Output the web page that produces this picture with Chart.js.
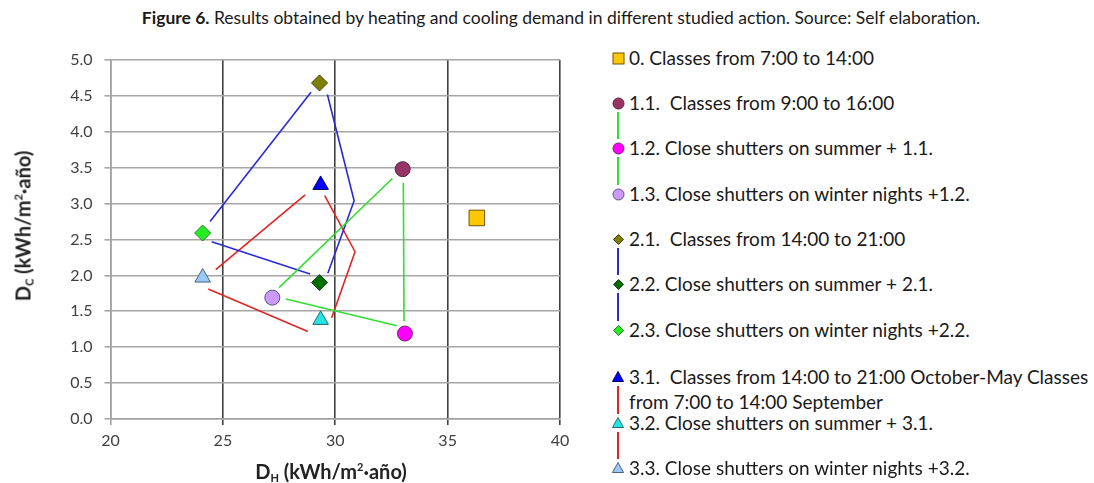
<!DOCTYPE html>
<html>
<head>
<meta charset="utf-8">
<script src="https://cdn.jsdelivr.net/npm/chart.js@4.4.0/dist/chart.umd.min.js"></script>
<style>
body { margin: 0; background: #fff; }
#wrap { position: relative; width: 1094px; height: 483px; overflow: hidden; font-family: Lato, "Open Sans", sans-serif; color: #1a1a1a; }
#title { position: absolute; top: 7px; left: 0; width: 1122px; text-align: center; font-size: 17.5px; white-space: nowrap; }
#chartBox { position: absolute; left: 0; top: 0; width: 600px; height: 483px; }
.axisTitle { position: absolute; font-weight: bold; font-size: 20px; white-space: nowrap; color: #222; }
.axisTitle sub { font-size: 11px; vertical-align: -3px; }
.axisTitle sup { font-size: 11px; vertical-align: 8px; line-height: 0; }
#xTitle { left: 331px; top: 471px; transform: translate(-50%, -50%); }
#yTitle { left: 23px; top: 226px; transform: translate(-50%, -50%) rotate(-90deg); }
.legRow { position: absolute; left: 629px; white-space: pre; font-size: 19px; line-height: 24px; height: 24px; }
.legMark { position: absolute; }
.legMark svg { display: block; }
.legLink { position: absolute; width: 1.5px; }
</style>
</head>
<body>
<div id="wrap">
  <div id="title"><b>Figure 6.</b> Results obtained by heating and cooling demand in different studied action. Source: Self elaboration.</div>
  <div id="chartBox"><canvas id="demandChart" width="600" height="483"></canvas></div>
  <div class="axisTitle" id="xTitle">D<sub>H</sub> (kWh/m<sup>2</sup>·año)</div>
  <div class="axisTitle" id="yTitle">D<sub>C</sub> (kWh/m<sup>2</sup>·año)</div>
  <div id="legend"></div>
</div>
<script>
// studied actions
const actionNames = [
    '0. Classes from 7:00 to 14:00',
    '1.1.  Classes from 9:00 to 16:00',
    '1.2. Close shutters on summer + 1.1.',
    '1.3. Close shutters on winter nights +1.2.',
    '2.1.  Classes from 14:00 to 21:00',
    '2.2. Close shutters on summer + 2.1.',
    '2.3. Close shutters on winter nights +2.2.',
    '3.1.  Classes from 14:00 to 21:00 October-May Classes',
    '3.2. Close shutters on summer + 3.1.',
    '3.3. Close shutters on winter nights +3.2.'
];
const actionNameExtra = 'from 7:00 to 14:00 September';

// heating demand D_H and cooling demand D_C (kWh/m2·año)
const heatingDemand = [36.3, 33.0, 33.1, 27.2, 29.3, 29.3, 24.1, 29.35, 29.35, 24.1];
const coolingDemand = [2.80, 3.48, 1.19, 1.69, 4.68, 1.90, 2.59, 3.26, 1.38, 1.97];

// x axis / y axis ticks
const dhTicks = [20, 25, 30, 35, 40];
const dcTicks = [0.0, 0.5, 1.0, 1.5, 2.0, 2.5, 3.0, 3.5, 4.0, 4.5, 5.0];

// hand drawn connectors between actions of one group (vertices in D_H, D_C)
const linkGroup = [1, 1, 1, 2, 2, 2, 3, 3, 3];
const linkDH = [
    [27.50, 32.54], [33.03, 33.06], [27.81, 32.74],
    [24.43, 28.92], [29.65, 30.84, 29.67], [24.50, 28.88],
    [24.68, 28.66], [29.53, 30.88, 29.84], [24.35, 28.78]
];
const linkDC = [
    [1.83, 3.35], [3.29, 1.36], [1.67, 1.30],
    [2.75, 4.55], [4.52, 3.04, 2.03], [2.47, 2.02],
    [2.08, 3.12], [3.11, 2.33, 1.41], [1.81, 1.22]
];

// styles
const markerShape = ['rect', 'circle', 'circle', 'circle', 'rectRot', 'rectRot', 'rectRot', 'triangle', 'triangle', 'triangle'];
const markerFill = ['#ffc800', '#993366', '#ff00ff', '#cc99ff', '#808000', '#006e00', '#22ee22', '#0000ff', '#22e6e6', '#99c8f5'];
const markerLine = ['#6b5500', '#4a2a3a', '#6a2a6a', '#5e5470', '#3d3d10', '#1e3a1e', '#2a7a2a', '#00006a', '#2a6a6a', '#4a6480'];
const markerRadius = [11, 7.5, 7.5, 7.5, 8, 8, 8, 9, 9, 9];
const groupColor = { 1: '#33dd33', 2: '#2a2ad8', 3: '#e42424' };

const pointSets = actionNames.map((name, i) => ({
    type: 'scatter',
    label: name,
    data: [{ x: heatingDemand[i], y: coolingDemand[i] }],
    pointStyle: markerShape[i],
    pointRadius: markerRadius[i],
    pointBackgroundColor: markerFill[i],
    pointBorderColor: markerLine[i],
    pointBorderWidth: 1
}));

const linkSets = linkDH.map((xs, i) => ({
    type: 'line',
    label: 'link ' + i,
    data: xs.map((x, k) => ({ x: x, y: linkDC[i][k] })),
    borderColor: groupColor[linkGroup[i]],
    borderWidth: 1.6,
    pointRadius: 0,
    fill: false,
    tension: 0
}));

const tickFont = { family: 'Lato', size: 16 };

new Chart(document.getElementById('demandChart').getContext('2d'), {
    type: 'scatter',
    data: { datasets: pointSets.concat(linkSets) },
    options: {
        responsive: false,
        animation: false,
        layout: { padding: { top: 60, right: 40, left: 0, bottom: 0 } },
        plugins: { legend: { display: false }, tooltip: { enabled: false } },
        scales: {
            x: {
                type: 'linear',
                min: dhTicks[0],
                max: dhTicks[dhTicks.length - 1],
                afterBuildTicks: (scale) => { scale.ticks = dhTicks.map(v => ({ value: v })); },
                afterFit: (scale) => { scale.height = 64; },
                ticks: { font: tickFont, color: '#404040', padding: 6 },
                grid: {
                    color: (c) => c.tick && c.tick.value === 20 ? '#a0a0a0' : '#404040',
                    lineWidth: 1.6,
                    tickLength: 6
                },
                border: { color: '#a0a0a0', width: 1.6 }
            },
            y: {
                type: 'linear',
                min: dcTicks[0],
                max: dcTicks[dcTicks.length - 1],
                afterBuildTicks: (scale) => { scale.ticks = dcTicks.map(v => ({ value: v })); },
                afterFit: (scale) => { scale.width = 110.5; },
                ticks: { font: tickFont, color: '#404040', padding: 12, callback: (v) => Number(v).toFixed(1) },
                grid: { color: '#a6a6a6', lineWidth: 1.6, tickLength: 6 },
                border: { color: '#a0a0a0', width: 1.6 }
            }
        }
    }
});

// legend with the same connector lines as the original figure
const legendY = [58, 103, 148, 194, 239, 284, 330, 377, 423, 468];
const legendExtraY = 402;
const legendMarkSize = [13, 13, 13, 13, 11, 11, 11, 12, 12, 12];
const legendX = 618;

function markerSvg(shape, fill, stroke, s) {
    const h = s / 2;
    let body;
    if (shape === 'rect') body = `<rect x="1" y="1" width="${s - 2}" height="${s - 2}" fill="${fill}" stroke="${stroke}"/>`;
    else if (shape === 'circle') body = `<circle cx="${h}" cy="${h}" r="${h - 1}" fill="${fill}" stroke="${stroke}"/>`;
    else if (shape === 'rectRot') body = `<polygon points="${h},0.5 ${s - 0.5},${h} ${h},${s - 0.5} 0.5,${h}" fill="${fill}" stroke="${stroke}"/>`;
    else body = `<polygon points="${h},0.5 ${s - 0.5},${s - 1.5} 0.5,${s - 1.5}" fill="${fill}" stroke="${stroke}"/>`;
    return `<svg width="${s}" height="${s}" viewBox="0 0 ${s} ${s}">${body}</svg>`;
}

const legend = document.getElementById('legend');
let html = '';
actionNames.forEach((name, i) => {
    const s = legendMarkSize[i];
    html += `<div class="legMark" style="left:${legendX - s / 2}px;top:${legendY[i] - s / 2}px;width:${s}px;height:${s}px">${markerSvg(markerShape[i], markerFill[i], markerLine[i], s)}</div>`;
    html += `<div class="legRow" style="top:${legendY[i] - 12}px">${name}</div>`;
});
html += `<div class="legRow" style="top:${legendExtraY - 12}px">${actionNameExtra}</div>`;
// connectors: 1.1-1.2-1.3, 2.1-2.2-2.3, 3.1-3.2-3.3
const legendLinks = [[1, 2, 1], [2, 3, 1], [4, 5, 2], [5, 6, 2], [7, 8, 3], [8, 9, 3]];
legendLinks.forEach(([a, b, g]) => {
    const top = legendY[a] + 9, bottom = legendY[b] - 9;
    html += `<div class="legLink" style="left:${legendX - 0.75}px;top:${top}px;height:${bottom - top}px;background:${groupColor[g]}"></div>`;
});
legend.innerHTML = html;
</script>
</body>
</html>
